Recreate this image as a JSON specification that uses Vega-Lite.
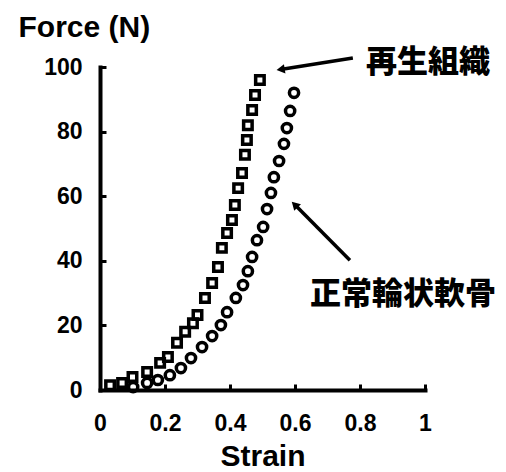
{
  "$schema": "https://vega.github.io/schema/vega-lite/v6.json",
  "width": 325,
  "height": 323,
  "autosize": {"type": "none"},
  "padding": {"left": 100, "top": 67, "right": 81, "bottom": 82},
  "background": "white",
  "config": {"view": {"stroke": null}, "font": "Liberation Sans"},
  "datasets": {
    "curves": [
      {"series": "再生組織", "strain": 0.031, "force": 1.5},
      {"series": "再生組織", "strain": 0.068, "force": 2.2},
      {"series": "再生組織", "strain": 0.100, "force": 4.0},
      {"series": "再生組織", "strain": 0.145, "force": 5.6},
      {"series": "再生組織", "strain": 0.185, "force": 8.4},
      {"series": "再生組織", "strain": 0.209, "force": 10.2},
      {"series": "再生組織", "strain": 0.237, "force": 14.6},
      {"series": "再生組織", "strain": 0.262, "force": 18.0},
      {"series": "再生組織", "strain": 0.286, "force": 20.7},
      {"series": "再生組織", "strain": 0.300, "force": 23.2},
      {"series": "再生組織", "strain": 0.323, "force": 28.5},
      {"series": "再生組織", "strain": 0.345, "force": 33.1},
      {"series": "再生組織", "strain": 0.363, "force": 38.1},
      {"series": "再生組織", "strain": 0.375, "force": 44.0},
      {"series": "再生組織", "strain": 0.391, "force": 48.6},
      {"series": "再生組織", "strain": 0.406, "force": 52.6},
      {"series": "再生組織", "strain": 0.415, "force": 57.3},
      {"series": "再生組織", "strain": 0.425, "force": 62.5},
      {"series": "再生組織", "strain": 0.437, "force": 67.2},
      {"series": "再生組織", "strain": 0.446, "force": 72.8},
      {"series": "再生組織", "strain": 0.452, "force": 77.4},
      {"series": "再生組織", "strain": 0.455, "force": 82.0},
      {"series": "再生組織", "strain": 0.468, "force": 86.7},
      {"series": "再生組織", "strain": 0.477, "force": 91.3},
      {"series": "再生組織", "strain": 0.492, "force": 96.0},
      {"series": "正常輪状軟骨", "strain": 0.102, "force": 0.9},
      {"series": "正常輪状軟骨", "strain": 0.145, "force": 2.2},
      {"series": "正常輪状軟骨", "strain": 0.178, "force": 3.1},
      {"series": "正常輪状軟骨", "strain": 0.215, "force": 4.6},
      {"series": "正常輪状軟骨", "strain": 0.249, "force": 6.8},
      {"series": "正常輪状軟骨", "strain": 0.280, "force": 9.9},
      {"series": "正常輪状軟骨", "strain": 0.314, "force": 13.3},
      {"series": "正常輪状軟骨", "strain": 0.345, "force": 16.7},
      {"series": "正常輪状軟骨", "strain": 0.372, "force": 20.1},
      {"series": "正常輪状軟骨", "strain": 0.391, "force": 24.1},
      {"series": "正常輪状軟骨", "strain": 0.418, "force": 28.5},
      {"series": "正常輪状軟骨", "strain": 0.440, "force": 32.5},
      {"series": "正常輪状軟骨", "strain": 0.455, "force": 36.8},
      {"series": "正常輪状軟骨", "strain": 0.468, "force": 41.2},
      {"series": "正常輪状軟骨", "strain": 0.483, "force": 46.4},
      {"series": "正常輪状軟骨", "strain": 0.502, "force": 50.5},
      {"series": "正常輪状軟骨", "strain": 0.514, "force": 56.0},
      {"series": "正常輪状軟骨", "strain": 0.526, "force": 61.0},
      {"series": "正常輪状軟骨", "strain": 0.535, "force": 65.9},
      {"series": "正常輪状軟骨", "strain": 0.551, "force": 70.9},
      {"series": "正常輪状軟骨", "strain": 0.566, "force": 76.2},
      {"series": "正常輪状軟骨", "strain": 0.575, "force": 81.1},
      {"series": "正常輪状軟骨", "strain": 0.585, "force": 86.4},
      {"series": "正常輪状軟骨", "strain": 0.597, "force": 92.0}
    ],
    "labels": [
      {"label": "再生組織", "strain": 1.009, "force": 101.2},
      {"label": "正常輪状軟骨", "strain": 0.932, "force": 29.4}
    ],
    "arrows": [
      {"arrow": "再生組織", "strain": 0.778, "force": 102.8, "strain2": 0.560, "force2": 99.3},
      {"arrow": "正常輪状軟骨", "strain": 0.769, "force": 40.2, "strain2": 0.602, "force2": 57.1}
    ]
  },
  "encoding": {
    "x": {
      "field": "strain", "type": "quantitative",
      "scale": {"domain": [0, 1], "nice": false, "zero": true},
      "axis": {
        "title": "Strain", "values": [0, 0.2, 0.4, 0.6, 0.8, 1], "format": "~g",
        "grid": false, "domainColor": "black", "domainWidth": 4, "domainCap": "square",
        "tickColor": "black", "tickWidth": 3, "tickSize": -6,
        "labelFont": "Liberation Sans", "labelFontWeight": "bold", "labelFontSize": 23, "labelColor": "black",
        "labelPadding": 28, "labelBaseline": "top", "labelFlush": false,
        "titleFont": "Liberation Sans", "titleFontWeight": "bold", "titleFontSize": 30, "titleColor": "black",
        "titleBaseline": "alphabetic", "titleY": 75
      }
    },
    "y": {
      "field": "force", "type": "quantitative",
      "scale": {"domain": [0, 100], "nice": false, "zero": true},
      "axis": {
        "title": "Force (N)", "values": [0, 20, 40, 60, 80, 100],
        "grid": false, "domainColor": "black", "domainWidth": 4, "domainCap": "square",
        "tickColor": "black", "tickWidth": 3, "tickSize": -6,
        "labelFont": "Liberation Sans", "labelFontWeight": "bold", "labelFontSize": 23, "labelColor": "black",
        "labelPadding": 24, "labelFlush": false,
        "titleFont": "Liberation Sans", "titleFontWeight": "bold", "titleFontSize": 30, "titleColor": "black",
        "titleAngle": 0, "titleAlign": "left", "titleBaseline": "alphabetic", "titleX": -82, "titleY": -31
      }
    }
  },
  "layer": [
    {
      "data": {"name": "curves"},
      "transform": [{"filter": "datum.series === '再生組織'"}],
      "mark": {"type": "point", "shape": "square", "filled": false, "stroke": "black", "strokeWidth": 3.5, "size": 72, "opacity": 1}
    },
    {
      "data": {"name": "curves"},
      "transform": [{"filter": "datum.series === '正常輪状軟骨'"}],
      "mark": {"type": "point", "shape": "circle", "filled": false, "stroke": "black", "strokeWidth": 3.5, "size": 85, "opacity": 1}
    },
    {
      "data": {"name": "arrows"},
      "mark": {"type": "rule", "stroke": "black", "strokeWidth": 3.5},
      "encoding": {
        "x2": {"field": "strain2"},
        "y2": {"field": "force2"}
      }
    },
    {
      "data": {"name": "arrows"},
      "transform": [{"filter": "datum.arrow === '再生組織'"}],
      "mark": {"type": "point", "shape": "triangle", "filled": true, "fill": "black", "stroke": null, "size": 90, "angle": 261, "opacity": 1},
      "encoding": {
        "x": {"field": "strain2", "type": "quantitative"},
        "y": {"field": "force2", "type": "quantitative"}
      }
    },
    {
      "data": {"name": "arrows"},
      "transform": [{"filter": "datum.arrow === '正常輪状軟骨'"}],
      "mark": {"type": "point", "shape": "triangle", "filled": true, "fill": "black", "stroke": null, "size": 90, "angle": 315, "opacity": 1},
      "encoding": {
        "x": {"field": "strain2", "type": "quantitative"},
        "y": {"field": "force2", "type": "quantitative"}
      }
    },
    {
      "data": {"name": "labels"},
      "mark": {"type": "text", "font": "Noto Sans CJK JP", "fontWeight": 900, "fontSize": 31, "color": "black", "align": "center", "baseline": "middle"},
      "encoding": {"text": {"field": "label"}}
    }
  ]
}
